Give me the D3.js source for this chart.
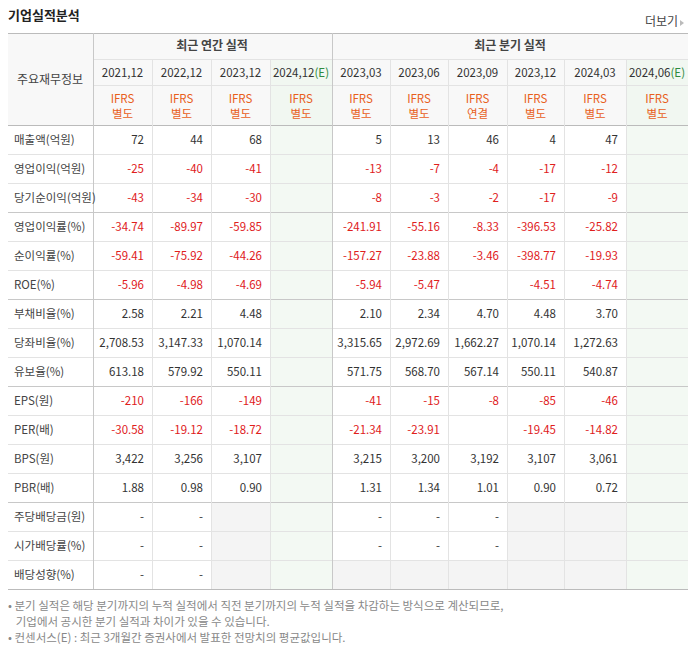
<!DOCTYPE html>
<html><head><meta charset="utf-8">
<script src="https://cdn.jsdelivr.net/npm/d3@7"></script>
<style>body{margin:0;background:#fff;font-family:"Noto Sans CJK KR","Noto Sans",sans-serif;}</style>
</head><body><svg id="c" width="694" height="648"></svg>
<script>
const annualPeriods=["2021.12","2022.12","2023.12","2024.12"];
const quarterPeriods=["2023.03","2023.06","2023.09","2023.12","2024.03","2024.06"];
const estimate=[false,false,false,true,false,false,false,false,false,true];
const basis=["별도","별도","별도","별도","별도","별도","연결","별도","별도","별도"];
const rowLabels=["매출액(억원)","영업이익(억원)","당기순이익(억원)","영업이익률(%)","순이익률(%)","ROE(%)","부채비율(%)","당좌비율(%)","유보율(%)","EPS(원)","PER(배)","BPS(원)","PBR(배)","주당배당금(원)","시가배당률(%)","배당성향(%)"];
const values=[
["72","44","68","","5","13","46","4","47",""],
["-25","-40","-41","","-13","-7","-4","-17","-12",""],
["-43","-34","-30","","-8","-3","-2","-17","-9",""],
["-34.74","-89.97","-59.85","","-241.91","-55.16","-8.33","-396.53","-25.82",""],
["-59.41","-75.92","-44.26","","-157.27","-23.88","-3.46","-398.77","-19.93",""],
["-5.96","-4.98","-4.69","","-5.94","-5.47","","-4.51","-4.74",""],
["2.58","2.21","4.48","","2.10","2.34","4.70","4.48","3.70",""],
["2,708.53","3,147.33","1,070.14","","3,315.65","2,972.69","1,662.27","1,070.14","1,272.63",""],
["613.18","579.92","550.11","","571.75","568.70","567.14","550.11","540.87",""],
["-210","-166","-149","","-41","-15","-8","-85","-46",""],
["-30.58","-19.12","-18.72","","-21.34","-23.91","","-19.45","-14.82",""],
["3,422","3,256","3,107","","3,215","3,200","3,192","3,107","3,061",""],
["1.88","0.98","0.90","","1.31","1.34","1.01","0.90","0.72",""],
["-","-",null,"","-","-","-",null,null,""],
["-","-",null,"","-","-","-",null,null,""],
["-","-",null,"",null,null,null,null,null,""]];
const groupBreaks=[3,6,9,13];
const footnotes=["• 분기 실적은 해당 분기까지의 누적 실적에서 직전 분기까지의 누적 실적을 차감하는 방식으로 계산되므로,","   기업에서 공시한 분기 실적과 차이가 있을 수 있습니다.","• 컨센서스(E) : 최근 3개월간 증권사에서 발표한 전망치의 평균값입니다."];

const svg=d3.select("#c");
const font='"Noto Sans CJK KR",sans-serif';
const colEdges=[8,93,152,211,270,332,390,448,507,564,626,688];
const periods=annualPeriods.concat(quarterPeriods);
const x0=i=>colEdges[i+1], x1=i=>colEdges[i+2];
const rowY=d3.scaleBand().domain(d3.range(rowLabels.length)).range([125,589]);
const line="#e3e3e3", dark="#c8c8c8";

svg.append("text").attr("x",8).attr("y",20).attr("font-size",13).attr("font-weight","bold").attr("fill","#222").attr("font-family",font).text("기업실적분석");
svg.append("text").attr("x",678).attr("y",26).attr("text-anchor","end").attr("font-size",12).attr("fill","#444").attr("font-family",font).text("더보기");
svg.append("path").attr("d","M680,20 l4,3 l-4,3z").attr("fill","#bbb");

svg.append("rect").attr("x",8).attr("y",33).attr("width",680).attr("height",92).attr("fill","#f8f8f8");
periods.forEach((p,i)=>{
  if(estimate[i]) svg.append("rect").attr("x",x0(i)).attr("y",59).attr("width",x1(i)-x0(i)).attr("height",66).attr("fill","#f1f7f1");
});
values.forEach((r,ri)=>r.forEach((v,ci)=>{
  let fill=null;
  if(estimate[ci]) fill="#f3f9f3"; else if(v===null) fill="#f4f4f4";
  if(fill) svg.append("rect").attr("x",x0(ci)).attr("y",rowY(ri)).attr("width",x1(ci)-x0(ci)).attr("height",rowY.bandwidth()).attr("fill",fill);
}));
const hl=(y,c,xa=8,xb=688)=>svg.append("line").attr("x1",xa).attr("x2",xb).attr("y1",y).attr("y2",y).attr("stroke",c);
hl(33.5,"#bbb");hl(59.5,line,93);hl(85.5,line,93);hl(125.5,"#bbb");hl(589.5,"#bbb");
rowLabels.forEach((r,i)=>{ if(i>0) hl(rowY(i)+0.5,groupBreaks.includes(i)?dark:line); });
colEdges.slice(1,-1).forEach((x)=>{
  const major=(x===93||x===332);
  svg.append("line").attr("x1",x+0.5).attr("x2",x+0.5).attr("y1",major?33:59).attr("y2",589).attr("stroke",major?dark:line);
});
const tx=(x,y,t,o={})=>svg.append("text").attr("x",x).attr("y",y).attr("text-anchor",o.a||"middle").attr("font-size",o.s||12).attr("fill",o.c||"#333").attr("font-weight",o.w||"normal").attr("font-family",font).text(t);
tx(50,84,"주요재무정보",{c:"#444"});
tx(212,50,"최근 연간 실적",{w:"bold",c:"#444"});
tx(510,50,"최근 분기 실적",{w:"bold",c:"#444"});
periods.forEach((p,i)=>{
  const cx=(x0(i)+x1(i))/2;
  const t=svg.append("text").attr("x",cx).attr("y",77).attr("text-anchor","middle").attr("font-size",11.5).attr("fill","#333").attr("font-family",font).text(p.replace(".",","));
  if(estimate[i]) t.append("tspan").attr("fill","#2e8b3e").text("(E)");
  tx(cx,103,"IFRS",{c:"#e8601c",s:11.5});
  tx(cx,118,basis[i],{c:"#e8601c",s:11.5});
});
rowLabels.forEach((r,ri)=>{
  const y=rowY(ri)+rowY.bandwidth()/2+4;
  tx(14,y,r,{a:"start",c:"#444",s:11.5});
  values[ri].forEach((v,ci)=>{
    if(!v) return;
    const neg=v.startsWith("-")&&v!=="-";
    tx(x1(ci)-8,y,v,{a:"end",c:neg?"#e0201c":"#333",s:11.5});
  });
});
footnotes.forEach((f,i)=>tx(8,[610,626,642][i],f,{a:"start",c:"#888",s:11.5}).attr("xml:space","preserve"));
</script></body></html>
